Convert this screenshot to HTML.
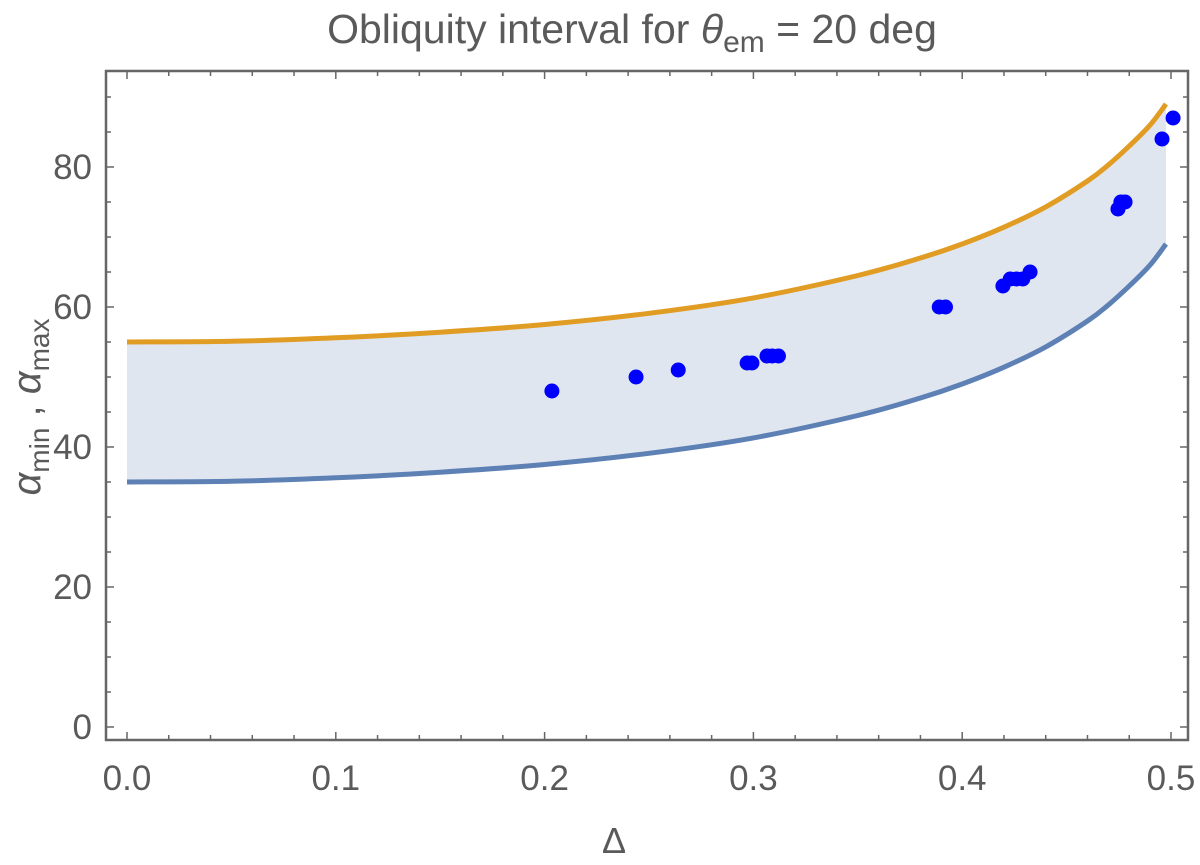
<!DOCTYPE html>
<html><head><meta charset="utf-8"><style>
body{margin:0;background:#fff}
svg text{font-family:"Liberation Sans",sans-serif;fill:#5a5a5a}
</style></head><body>
<svg id="chart" width="1200" height="860" viewBox="0 0 1200 860" xmlns="http://www.w3.org/2000/svg">
<text x="632" y="43" font-size="41" text-anchor="middle">Obliquity interval for <tspan font-style="italic">θ</tspan><tspan font-size="30" dy="9">em</tspan><tspan dy="-9"> = 20 deg</tspan></text>
<text x="614" y="853" font-size="36" text-anchor="middle">Δ</text>
<text transform="translate(40,407) rotate(-90)" font-size="40" text-anchor="middle"><tspan font-style="italic">α</tspan><tspan font-size="28" dy="9">min</tspan><tspan dy="-9"> , </tspan><tspan font-style="italic">α</tspan><tspan font-size="28" dy="9">max</tspan></text>
<g id="plot"></g>
</svg>
<script>
const gridDelta=[0,0.05,0.1,0.15,0.2,0.25,0.3,0.35,0.38,0.4,0.42,0.44,0.46,0.47,0.48,0.49,0.4976];
const upperAlpha=[55,55.1,55.6,56.4,57.5,59.1,61.3,64.5,67.0,69.0,71.4,74.3,78.0,80.3,83.0,86.0,89.0];
const lowerAlpha=[35,35.1,35.6,36.4,37.5,39.1,41.3,44.5,47.0,49.0,51.4,54.3,58.0,60.3,63.0,66.0,69.0];
const pointDelta=[0.2035,0.2438,0.264,0.297,0.2993,0.3065,0.309,0.312,0.389,0.392,0.4195,0.423,0.426,0.429,0.4325,0.4746,0.476,0.478,0.4957,0.501];
const pointAlpha=[48,50,51,52,52,53,53,53,60,60,63,64,64,64,65,74,75,75,84,87];
const xTicks=[0,0.1,0.2,0.3,0.4,0.5];
const xTickLabels=["0.0","0.1","0.2","0.3","0.4","0.5"];
const yTicks=[0,20,40,60,80];
const yTickLabels=["0","20","40","60","80"];

const NS="http://www.w3.org/2000/svg";
const X0=106,X1=1188,Y0=71,Y1=740;
const xs=d=>127+d*2088;
const ys=a=>727-a*7;
const g=document.getElementById('plot');
function mk(t,at){const e=document.createElementNS(NS,t);for(const k in at)e.setAttribute(k,at[k]);g.appendChild(e);return e;}
function smooth(pts){let d=`M${pts[0][0]},${pts[0][1]}`;for(let i=0;i<pts.length-1;i++){const p0=pts[Math.max(0,i-1)],p1=pts[i],p2=pts[i+1],p3=pts[Math.min(pts.length-1,i+2)];
d+=` C${p1[0]+(p2[0]-p0[0])/6},${p1[1]+(p2[1]-p0[1])/6} ${p2[0]-(p3[0]-p1[0])/6},${p2[1]-(p3[1]-p1[1])/6} ${p2[0]},${p2[1]}`;}return d;}
const up=gridDelta.map((d,i)=>[xs(d),ys(upperAlpha[i])]);
const lo=gridDelta.map((d,i)=>[xs(d),ys(lowerAlpha[i])]);
const loRev=lo.slice().reverse();
const fill=mk('path',{d:smooth(up)+' L'+loRev[0][0]+','+loRev[0][1]+' '+smooth(loRev).slice(1).replace(/^[^C]*/,'')+' Z',fill:'#e0e6f0'});


const lu=mk('path',{d:smooth(up),fill:'none',stroke:'#e19c24','stroke-width':5});


const ll=mk('path',{d:smooth(lo),fill:'none',stroke:'#5e81b5','stroke-width':5});


pointDelta.forEach((d,i)=>{const c=mk('circle',{cx:xs(d),cy:ys(pointAlpha[i]),r:7.5,fill:'#0000ff'});

});
const fr=mk('rect',{x:X0,y:Y0,width:X1-X0,height:Y1-Y0,fill:'none',stroke:'#666',"stroke-width":2.5});


for(let k=0;k<=25;k++){const d=k*0.02,x=xs(d),L=(k%5===0)?8:5;
mk('line',{x1:x,x2:x,y1:Y1,y2:Y1-L,stroke:'#666','stroke-width':1.5});
mk('line',{x1:x,x2:x,y1:Y0,y2:Y0+L,stroke:'#666','stroke-width':1.5});}
for(let a=0;a<=90;a+=5){const y=ys(a),L=(a%20===0)?8:5;
mk('line',{x1:X0,x2:X0+L,y1:y,y2:y,stroke:'#666','stroke-width':1.5});
mk('line',{x1:X1,x2:X1-L,y1:y,y2:y,stroke:'#666','stroke-width':1.5});}
xTicks.forEach((d,i)=>{const t=mk('text',{x:xs(d),y:790,'font-size':35,'text-anchor':'middle'});t.textContent=xTickLabels[i];

});
yTicks.forEach((a,i)=>{const t=mk('text',{x:92,y:ys(a)+12,'font-size':35,'text-anchor':'end'});t.textContent=yTickLabels[i];

});
</script>
</body></html>
